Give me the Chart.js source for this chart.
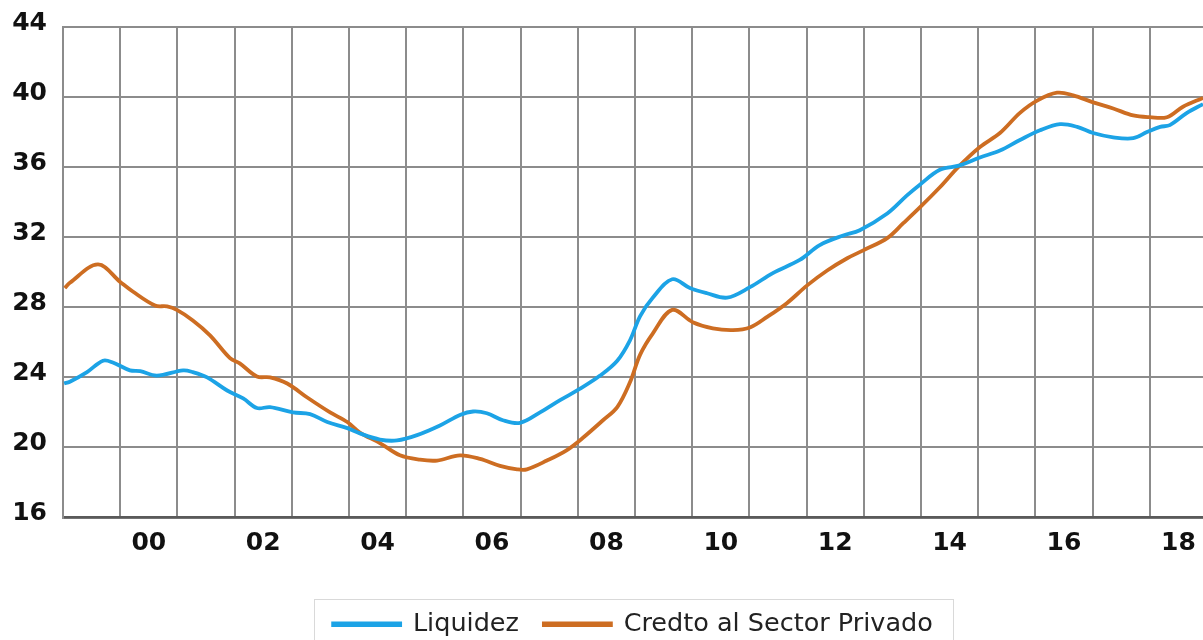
<!DOCTYPE html>
<html>
<head>
<meta charset="utf-8">
<script src="https://cdn.jsdelivr.net/npm/chart.js@4.4.1/dist/chart.umd.min.js"></script>
<style>
html, body { margin: 0; padding: 0; background: #fff; overflow: hidden; }
</style>
</head>
<body>
<canvas id="grafico" width="1203" height="647"></canvas>
<script>
// Liquidez y credito al sector privado (% del PIB), lectura aproximada del grafico
const fechasLiquidez = [
  1999.02, 1999.12, 1999.42, 1999.70, 1999.87, 2000.17, 2000.35, 2000.64, 2001.10, 2001.27,
  2001.52, 2001.87, 2002.15, 2002.39, 2002.62, 2003.02, 2003.32, 2003.62, 2003.97, 2004.19,
  2004.54, 2004.84, 2005.19, 2005.59, 2005.94, 2006.17, 2006.41, 2006.69, 2006.99, 2007.34,
  2007.69, 2008.04, 2008.39, 2008.69, 2008.91, 2009.09, 2009.31, 2009.65, 2009.96, 2010.26,
  2010.61, 2011.01, 2011.41, 2011.88, 2012.23, 2012.64, 2012.93, 2013.41, 2013.76, 2013.98,
  2014.33, 2014.68, 2015.03, 2015.38, 2015.73, 2016.08, 2016.43, 2016.73, 2017.01, 2017.36,
  2017.71, 2017.95, 2018.18, 2018.35, 2018.65, 2018.93
];
const liquidez = [
  23.65, 23.75, 24.3, 24.95, 24.85, 24.4, 24.35, 24.1, 24.4, 24.3,
  24.0, 23.25, 22.8, 22.25, 22.3, 22.0, 21.9, 21.45, 21.1, 20.8,
  20.45, 20.4, 20.7, 21.25, 21.85, 22.05, 21.95, 21.55, 21.4, 22.0,
  22.7, 23.35, 24.1, 24.95, 26.1, 27.5, 28.55, 29.6, 29.1, 28.8,
  28.55, 29.15, 29.95, 30.7, 31.55, 32.1, 32.4, 33.35, 34.4, 35.0,
  35.85, 36.1, 36.55, 36.95, 37.55, 38.1, 38.45, 38.3, 37.95, 37.7,
  37.65, 38.0, 38.3, 38.4, 39.1, 39.6
];

const fechasCredito = [
  1999.03, 1999.12, 1999.61, 2000.00, 2000.22, 2000.61, 2000.82, 2000.99, 2001.27, 2001.57,
  2001.92, 2002.09, 2002.39, 2002.62, 2002.92, 2003.27, 2003.67, 2003.97, 2004.19, 2004.54,
  2004.89, 2005.24, 2005.54, 2005.94, 2006.29, 2006.64, 2006.94, 2007.11, 2007.46, 2007.81,
  2008.09, 2008.44, 2008.69, 2008.91, 2009.09, 2009.31, 2009.65, 2010.01, 2010.36, 2010.71,
  2011.01, 2011.31, 2011.66, 2012.01, 2012.36, 2012.71, 2012.99, 2013.41, 2013.69, 2013.98,
  2014.33, 2014.65, 2015.03, 2015.38, 2015.73, 2016.03, 2016.38, 2016.66, 2017.01, 2017.36,
  2017.71, 2018.00, 2018.30, 2018.58, 2018.93
];
const credito = [
  29.1, 29.4, 30.45, 29.45, 28.9, 28.1, 28.05, 27.85, 27.25, 26.4,
  25.1, 24.8, 24.05, 24.0, 23.65, 22.85, 22.0, 21.45, 20.85, 20.25,
  19.55, 19.3, 19.25, 19.55, 19.35, 18.95, 18.75, 18.75, 19.25, 19.85,
  20.55, 21.55, 22.3, 23.7, 25.3, 26.5, 27.85, 27.15, 26.8, 26.7,
  26.85, 27.45, 28.25, 29.25, 30.1, 30.8, 31.25, 31.95, 32.8, 33.7,
  34.85, 36.0, 37.15, 37.95, 39.1, 39.8, 40.25, 40.1, 39.7, 39.35,
  38.95, 38.85, 38.85, 39.45, 39.95
];

const aniosGrilla = [1999, 2000, 2001, 2002, 2003, 2004, 2005, 2006, 2007, 2008,
  2009, 2010, 2011, 2012, 2013, 2014, 2015, 2016, 2017, 2018];
const aniosEtiqueta = [2000, 2002, 2004, 2006, 2008, 2010, 2012, 2014, 2016, 2018];

const azul = '#1ca3e6';
const naranja = '#cd6d22';
const gris = '#8c8c8c';
const fuenteEjes = { family: 'DejaVu Sans', size: 25, weight: 'bold' };

// marcas del eje x: linea de grilla al inicio de cada año, etiqueta a mitad de año
const marcasX = [];
aniosGrilla.forEach(a => { marcasX.push(a); marcasX.push(a + 0.5); });

const marcoLeyenda = {
  id: 'marcoLeyenda',
  afterDraw(chart) {
    const cajas = chart.legend.legendHitBoxes;
    if (!cajas || !cajas.length) return;
    const ult = cajas[cajas.length - 1];
    const izq = Math.round(cajas[0].left - 19);
    const der = Math.round(ult.left + ult.width + 20);
    const arriba = Math.round(cajas[0].top + cajas[0].height / 2 - 25);
    const ctx = chart.ctx;
    ctx.save();
    ctx.strokeStyle = '#d9d9d9';
    ctx.lineWidth = 1;
    ctx.strokeRect(izq + 0.5, arriba + 0.5, der - izq, chart.height);
    ctx.restore();
  }
};

new Chart(document.getElementById('grafico'), {
  type: 'line',
  data: {
    datasets: [
      {
        label: 'Liquidez',
        data: fechasLiquidez.map((f, i) => ({ x: f, y: liquidez[i] })),
        borderColor: azul,
        backgroundColor: azul,
        borderWidth: 3.8,
        pointRadius: 0,
        tension: 0.35,
        fill: false
      },
      {
        label: 'Credto al Sector Privado',
        data: fechasCredito.map((f, i) => ({ x: f, y: credito[i] })),
        borderColor: naranja,
        backgroundColor: naranja,
        borderWidth: 3.8,
        pointRadius: 0,
        tension: 0.35,
        fill: false
      }
    ]
  },
  options: {
    responsive: false,
    animation: false,
    layout: { padding: { top: 27, left: 0, right: 0, bottom: 0 } },
    plugins: {
      tooltip: { enabled: false },
      legend: {
        position: 'bottom',
        fullSize: false,
        labels: {
          boxWidth: 67,
          boxHeight: 1.5,
          padding: 25,
          color: '#222',
          font: { family: 'DejaVu Sans', size: 25.5 }
        }
      }
    },
    scales: {
      x: {
        type: 'linear',
        min: 1999,
        max: 2018.93,
        afterBuildTicks: (scale) => { scale.ticks = marcasX.map(v => ({ value: v })); },
        afterFit: (scale) => {
          scale.height += 17;
          scale.paddingLeft = 0;
          scale.paddingRight = 0;
        },
        grid: {
          color: (ctx) => (ctx.tick && Number.isInteger(ctx.tick.value)) ? gris : 'rgba(0,0,0,0)',
          lineWidth: 2,
          drawTicks: false
        },
        border: { color: '#5a5a5a', width: 2.5 },
        ticks: {
          autoSkip: false,
          maxRotation: 0,
          padding: 11,
          color: '#111',
          font: fuenteEjes,
          callback: (v) => aniosEtiqueta.includes(v - 0.5) ? String(v - 0.5).slice(2) : ''
        }
      },
      y: {
        min: 16,
        max: 44,
        afterFit: (scale) => {
          scale.width = 63;
          scale.paddingTop = 0;
          scale.paddingBottom = 0;
        },
        grid: { color: gris, lineWidth: 2, drawTicks: false },
        border: { color: gris, width: 2 },
        ticks: {
          stepSize: 4,
          padding: 16,
          labelOffset: -4,
          color: '#111',
          font: fuenteEjes
        }
      }
    }
  },
  plugins: [marcoLeyenda]
});
</script>
</body>
</html>
